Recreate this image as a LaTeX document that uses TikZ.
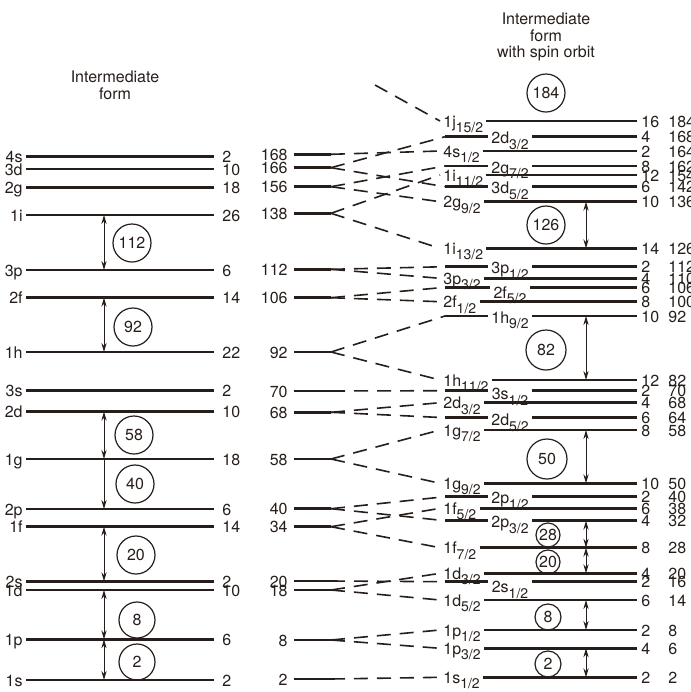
\documentclass[tikz,border=0pt]{standalone}
\usepackage{fontspec}
\setmainfont{TeX Gyre Heros}
\usetikzlibrary{arrows.meta}
\definecolor{ink}{RGB}{38,30,26}
\newcommand\orbit[2]{#1\raisebox{-.6ex}{\fontsize{7}{7}\selectfont#2/2}}

\begin{document}
\begin{tikzpicture}[x=0.5pt,y=-0.5pt,font=\fontsize{8}{9.6}\selectfont,color=ink,
  lvl/.style={line width=1.4pt},
  dsh/.style={line width=.8pt,dash pattern=on 7pt off 4.5pt},
  ar/.style={line width=.5pt,{Stealth[length=4.5pt,width=2.6pt]}-{Stealth[length=4.5pt,width=2.6pt]}},
  ard/.style={line width=.5pt,-{Stealth[length=4.5pt,width=2.6pt]}},
  lab/.style={inner xsep=1.5pt,inner ysep=0pt,text height=1.6ex,text depth=.4ex},
  cnt/.style={lab,inner xsep=4pt},
  ring/.style={draw,circle,line width=.6pt,inner sep=0pt,minimum size=#1},
  ring/.default=19pt,
  ttl/.style={align=center,font=\fontsize{8}{8.3}\selectfont}]
\useasboundingbox (0,0) rectangle (691,692);
% titles
\node[ttl] (tl) at (115,85) {Intermediate\\form};
\node[ttl] (tr) at (546,37) {Intermediate\\form\\with spin orbit};
% intermediate form
\foreach \nm/\yy/\ct in {4s/156.7/2, 3d/169/10, 2g/187.7/18, 1i/215/26, 3p/270/6,
    2f/297.7/14, 1h/352/22, 3s/390.7/2, 2d/411.7/10, 1g/459/18, 2p/509/6,
    1f/526.7/14, 2s/581.3/2, 1d/590/10, 1p/639.3/6, 1s/680/2}{
  \node[lab,anchor=east] (a\nm) at (26,\yy) {\nm};
  \node[cnt,anchor=west] (b\nm) at (214,\yy) {\ct};
  \draw[lvl] (a\nm) -- (b\nm);
}
\coordinate (axl) at (104,0);
\draw[ar] (a1i -| axl) -- (a3p -| axl);
\draw[ar] (a2f -| axl) -- (a1h -| axl);
\draw[ar] (a2d -| axl) -- (a1g -| axl);
\draw[ard] (a1g -| axl) -- (a2p -| axl);
\draw[ar] (a1f -| axl) -- (a2s -| axl);
\draw[ar] (a1d -| axl) -- (a1p -| axl);
\draw[ar] (a1p -| axl) -- (a1s -| axl);
\node[ring] (ol112) at (132,243) {112};
\node[ring] (ol92) at (133,327) {92};
\node[ring] (ol58) at (134,435) {58};
\node[ring] (ol40) at (135,484) {40};
\node[ring] (ol20) at (136,555) {20};
\node[ring=18pt] (ol8) at (137,620) {8};
\node[ring=18pt] (ol2) at (137,662) {2};
% middle column
\foreach \ct/\yy in {168/154.3, 166/167.7, 156/186.7, 138/213.3, 112/269.3, 106/297.7,
    92/352, 70/391, 68/412.3, 58/459, 40/508.7, 34/526.7, 20/581, 18/590, 8/640, 2/679}{
  \node[lab,anchor=east,inner xsep=3pt] (m\ct) at (294,\yy) {\ct};
  \coordinate (v\ct) at (331,\yy);
  \draw[lvl] (m\ct) -- (v\ct);
}
\coordinate (vtop) at (375,85);
% with spin orbit, label at the left
\foreach \nm/\yy/\lb/\sb/\ct/\tot/\pa in {1j15/121/1j/15/16/184/top, 4s1/151/4s/1/2/164/168,
    1i11/175/1i/11/12/154/138, 2g9/201.7/2g/9/10/136/156, 1i13/248.3/1i/13/14/126/138,
    3p3/278.3/3p/3/4/110/112, 2f7/301.7/2f/1/8/100/106, 1h11/380/1h/11/12/82/92,
    2d3/402.7/2d/3/4/68/68, 1g7/430/1g/7/8/58/58, 1g9/483.3/1g/9/10/50/58,
    1f5/508.3/1f/5/6/38/34, 1f7/547.7/1f/7/8/28/34, 1d3/573.3/1d/3/4/20/18,
    1d5/600/1d/5/6/14/18, 1p1/630/1p/1/2/8/8, 1p3/648.3/1p/3/4/6/8, 1s1/677.3/1s/1/2/2/2}{
  \node[lab,anchor=west] (r\nm) at (440,\yy) {\orbit{\lb}{\sb}};
  \node[cnt,anchor=west,inner xsep=2pt] (n\nm) at (637,\yy) {\ct};
  \node[lab,anchor=west] (t\nm) at (665,\yy) {\tot};
  \draw[lvl] (r\nm) -- (n\nm);
  \draw[dsh] (v\pa) -- (r\nm.west);
}
% with spin orbit, label in the line
\foreach \nm/\yy/\dy/\lb/\sb/\ct/\tot/\pa in {3d3/136.7/1/2d/3/4/168/166, 2g7/166/1/2g/7/8/162/156,
    3d5/186.7/1/3d/5/6/142/166, 3p1/266.7/1/3p/1/2/112/112, 2f5/287.3/5/2f/5/6/106/106,
    1h9/316/1/1h/9/10/92/92, 3s1/390.7/3/3s/1/2/70/70, 2d5/417.7/2/2d/5/6/64/68,
    2p1/496.7/1/2p/1/2/40/40, 2p3/520.7/1/2p/3/4/32/40, 2s1/581.7/5/2s/1/2/16/20}{
  \coordinate (r\nm) at (445,\yy);
  \node[lab] (q\nm) at (510,\yy+\dy) {\orbit{\lb}{\sb}};
  \node[cnt,anchor=west,inner xsep=2pt] (n\nm) at (637,\yy) {\ct};
  \node[lab,anchor=west] (t\nm) at (665,\yy) {\tot};
  \draw[lvl] (r\nm) -- (r\nm -| q\nm.west) (r\nm -| q\nm.east) -- (n\nm);
  \draw[dsh] (v\pa) -- (r\nm);
}
\coordinate (axr) at (586,0);
\draw[ar] (r2g9 -| axr) -- (r1i13 -| axr);
\draw[ar] (r1h9 -| axr) -- (r1h11 -| axr);
\draw[ar] (r1g7 -| axr) -- (r1g9 -| axr);
\draw[ar] (r2p3 -| axr) -- (r1f7 -| axr);
\draw[ar] (r1f7 -| axr) -- (r1d3 -| axr);
\draw[ar] (r1d5 -| axr) -- (r1p1 -| axr);
\draw[ar] (r1p3 -| axr) -- (r1s1 -| axr);
\node[ring] (or184) at (546,93) {184};
\node[ring] (or126) at (546,225) {126};
\node[ring=20pt] (or82) at (546,350) {82};
\node[ring=20pt] (or50) at (547,459) {50};
\node[ring=12pt] (or28) at (548,535) {28};
\node[ring=12pt] (or20) at (548,562) {20};
\node[ring=13pt] (or8) at (548,617) {8};
\node[ring=13pt] (or2) at (548,664) {2};
\end{tikzpicture}
\end{document}
